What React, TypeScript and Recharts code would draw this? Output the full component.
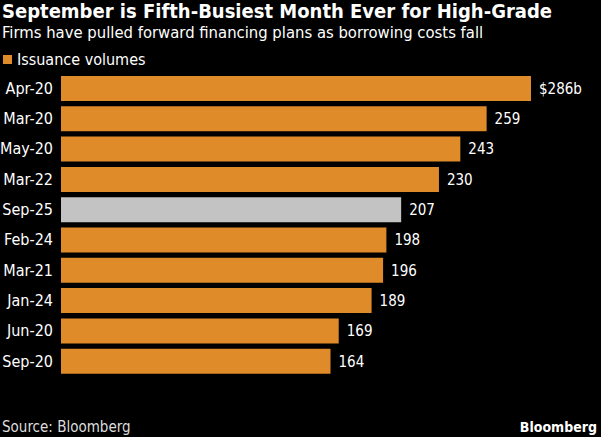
import { BarChart, Bar, XAxis, YAxis, Cell, LabelList } from 'recharts';

// Monthly high-grade issuance, $ billions, sorted by size
const months = ['Apr-20', 'Mar-20', 'May-20', 'Mar-22', 'Sep-25', 'Feb-24', 'Mar-21', 'Jan-24', 'Jun-20', 'Sep-20'];
const volumes = [286, 259, 243, 230, 207, 198, 196, 189, 169, 164];
const highlight = 'Sep-25';

const ORANGE = '#DF8B29';
const GRAY = '#C3C3C3';
const FONT = '"Liberation Sans Narrow", "DejaVu Sans Condensed", Roboto, sans-serif';

const data = months.map((m, i) => ({ month: m, value: volumes[i] }));

export default function App() {
  return (
    <div
      style={{
        position: 'absolute',
        left: 0,
        top: 0,
        width: 601,
        height: 437,
        background: '#000',
        color: '#fff',
        fontFamily: FONT,
        overflow: 'hidden',
      }}
    >
      <div style={{ position: 'absolute', left: 2, top: 0, fontSize: 20, lineHeight: '22px', fontWeight: 700, whiteSpace: 'nowrap' }}>
        September is Fifth-Busiest Month Ever for High-Grade
      </div>
      <div style={{ position: 'absolute', left: 2, top: 23, fontSize: 16.5, lineHeight: '19px', whiteSpace: 'nowrap' }}>
        Firms have pulled forward financing plans as borrowing costs fall
      </div>
      <div style={{ position: 'absolute', left: 3, top: 50, fontSize: 16, lineHeight: '19px', display: 'flex', alignItems: 'center' }}>
        <span style={{ display: 'inline-block', width: 9, height: 9, background: ORANGE, marginRight: 5 }} />
        Issuance volumes
      </div>

      <div style={{ position: 'absolute', left: 0, top: 0 }}>
        <BarChart
          width={601}
          height={437}
          data={data}
          layout="vertical"
          margin={{ top: 73, right: 47, bottom: 61, left: 0 }}
        >
          <XAxis type="number" domain={[0, 300]} hide />
          <YAxis
            type="category"
            dataKey="month"
            width={61}
            axisLine={false}
            tickLine={false}
            tick={{ fill: '#fff', fontSize: 16, fontFamily: FONT }}
          />
          <Bar dataKey="value" barSize={25} isAnimationActive={false}>
            {data.map((d) => (
              <Cell key={d.month} fill={d.month === highlight ? GRAY : ORANGE} />
            ))}
            <LabelList
              dataKey="value"
              position="right"
              offset={8}
              fill="#fff"
              fontSize={15}
              fontFamily={FONT}
              formatter={(v: any) => (v === volumes[0] ? `$${v}b` : v)}
            />
          </Bar>
        </BarChart>
      </div>

      <div style={{ position: 'absolute', left: 2, top: 418, fontSize: 15, lineHeight: '18px', color: '#ddd', whiteSpace: 'nowrap' }}>
        Source: Bloomberg
      </div>
      <div style={{ position: 'absolute', right: 4, top: 418, fontSize: 14, lineHeight: '18px', fontWeight: 700, whiteSpace: 'nowrap' }}>
        Bloomberg
      </div>
    </div>
  );
}
